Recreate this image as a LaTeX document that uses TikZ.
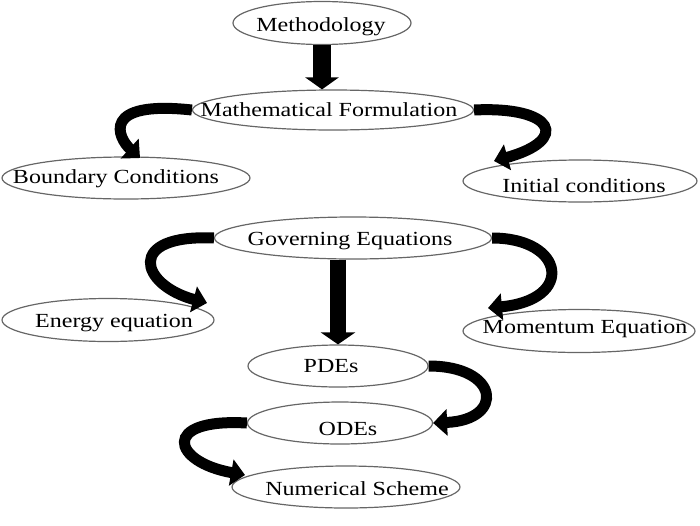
\documentclass[tikz,border=0pt]{standalone}
\usepackage{fontspec}
\setmainfont{Liberation Serif}[FakeStretch=1.2]
\usetikzlibrary{shapes.geometric,arrows.meta,calc}
\begin{document}
\begin{tikzpicture}[x=1pt,y=-1pt,
  el/.style={ellipse,draw=black!60,line width=1.2pt,inner sep=0pt},
  txt/.style={font=\fontsize{20}{24}\selectfont,anchor=base,inner sep=0pt},
  bigarrow/.style={line width=18pt,-{Triangle[width=33pt,length=12pt]}},
  curvearrow/.style={line width=11pt,-{Triangle[width=26pt,length=14pt]}}]
\useasboundingbox (0,0) rectangle (700,525);
% ellipses
\node[el,minimum width=178pt,minimum height=43pt] (meth) at (322,23) {};
\node[el,minimum width=281pt,minimum height=40pt] (mf) at (333,110) {};
\node[el,minimum width=248pt,minimum height=42pt] (bc) at (126,178) {};
\node[el,minimum width=234pt,minimum height=42pt] (ic) at (580,181) {};
\node[el,minimum width=277pt,minimum height=42pt] (ge) at (353,238) {};
\node[el,minimum width=212pt,minimum height=43pt] (en) at (108,320) {};
\node[el,minimum width=232pt,minimum height=43pt] (mo) at (579,331) {};
\node[el,minimum width=180pt,minimum height=42pt] (pde) at (338,366) {};
\node[el,minimum width=185pt,minimum height=42pt] (ode) at (340,423) {};
\node[el,minimum width=228pt,minimum height=42pt] (ns) at (346,487) {};
% texts
\node[txt] (methT) at (321,31) {Methodology};
\node[txt] (mfT) at (329,116) {Mathematical Formulation};
\node[txt] (bcT) at (116,183) {Boundary Conditions};
\node[txt] (icT) at (584,192) {Initial conditions};
\node[txt] (geT) at (350,245) {Governing Equations};
\node[txt] (enT) at (114,327) {Energy equation};
\node[txt] (moT) at (585,333) {Momentum Equation};
\node[txt] (pdeT) at (331,372) {PDEs};
\node[txt] (odeT) at (348,435) {ODEs};
\node[txt] (nsT) at (357,495) {Numerical Scheme};
% straight arrows
\draw[bigarrow] (meth.south) -- (meth.south |- mf.north);
\draw[bigarrow,line width=16pt,-{Triangle[width=34pt,length=12pt]}] (ge.south -| pde.north) -- (pde.north);
% curved arrows
\draw[curvearrow] (mf.west) .. controls (100,100) and (118,138) .. ($(bc)+(14,-20)$);
\draw[curvearrow] (mf.east) .. controls (555,106) and (570,140) .. ($(ic)+(-86,-20)$);
\draw[curvearrow] (ge.west) .. controls (125,234) and (140,285) .. ($(en)+(99,-17)$);
\draw[curvearrow] (ge.east) .. controls (565,238) and (575,300) .. ($(mo)+(-91,-23)$);
\draw[curvearrow] (pde.east) .. controls (500,366) and (505,420) .. (ode.east);
\draw[curvearrow] (ode.west) .. controls (160,418) and (172,462) .. ($(ns)+(-101,-12)$);
\end{tikzpicture}
\end{document}
